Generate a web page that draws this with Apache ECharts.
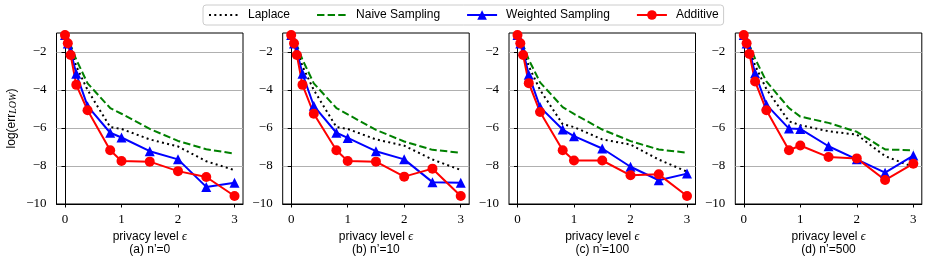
<!DOCTYPE html>
<html>
<head>
<meta charset="utf-8">
<script src="https://cdn.jsdelivr.net/npm/echarts@6/dist/echarts.min.js"></script>
<style>
html,body{margin:0;padding:0;background:#fff;}
#chart{width:926px;height:263px;}
</style>
</head>
<body>
<div id="chart"></div>
<script>
// ---- data ----
const epsilon = [0, 0.05, 0.1, 0.2, 0.4, 0.8, 1, 1.5, 2, 2.5, 3];
const seriesNames = ['Laplace', 'Naive Sampling', 'Weighted Sampling', 'Additive'];
const panelLabels = ["(a) n\u2019=0", "(b) n\u2019=10", "(c) n\u2019=100", "(d) n\u2019=500"];
const xTicks = [0, 1, 2, 3];
const yTicks = [-10, -8, -6, -4, -2];

const laplaceA  = [-1.0, -1.45, -1.85, -2.75, -4.0, -5.95, -6.05, -6.6, -6.97, -7.75, -8.22];
const naiveA    = [-1.0, -1.3, -1.65, -2.4, -3.65, -4.95, -5.25, -6.05, -6.68, -7.12, -7.35];
const weightedA = [-1.1, -1.55, -1.95, -3.15, -4.85, -6.25, -6.5, -7.22, -7.65, -9.1, -8.88];
const additiveA = [-1.11, -1.54, -2.16, -3.73, -5.07, -7.17, -7.74, -7.77, -8.27, -8.58, -9.58];

const laplaceB  = [-1.0, -1.45, -1.85, -2.75, -4.0, -5.95, -6.05, -6.6, -6.93, -7.66, -8.21];
const naiveB    = [-1.0, -1.3, -1.65, -2.4, -3.65, -4.95, -5.28, -6.1, -6.71, -7.15, -7.3];
const weightedB = [-1.1, -1.55, -1.95, -3.15, -4.83, -6.25, -6.52, -7.22, -7.65, -8.85, -8.88];
const additiveB = [-1.11, -1.54, -2.16, -3.73, -5.25, -7.17, -7.74, -7.77, -8.56, -8.14, -9.58];

const laplaceC  = [-1.0, -1.45, -1.85, -2.75, -4.0, -5.8, -5.95, -6.6, -6.87, -7.66, -8.3];
const naiveC    = [-1.0, -1.3, -1.65, -2.4, -3.6, -4.9, -5.26, -6.08, -6.69, -7.13, -7.3];
const weightedC = [-1.1, -1.55, -1.95, -3.2, -4.9, -6.08, -6.43, -7.08, -8.04, -8.75, -8.4];
const additiveC = [-1.11, -1.54, -2.16, -3.64, -5.16, -7.17, -7.71, -7.71, -8.49, -8.44, -9.58];

const laplaceD  = [-1.0, -1.45, -1.85, -2.7, -3.95, -5.65, -5.85, -6.17, -6.35, -7.48, -8.05];
const naiveD    = [-1.0, -1.3, -1.65, -2.35, -3.55, -4.95, -5.4, -5.73, -6.2, -7.13, -7.17];
const weightedD = [-1.1, -1.55, -1.95, -3.12, -4.77, -6.03, -6.05, -6.96, -7.65, -8.35, -7.45];
const additiveD = [-1.11, -1.54, -2.1, -3.55, -5.07, -7.17, -6.92, -7.53, -7.6, -8.74, -7.88];

const panels = [
  [laplaceA, naiveA, weightedA, additiveA],
  [laplaceB, naiveB, weightedB, additiveB],
  [laplaceC, naiveC, weightedC, additiveC],
  [laplaceD, naiveD, weightedD, additiveD]
];

// ---- layout / style ----
const gridLefts = [56.5, 282.7, 509, 735.3];
const gridTop = 33, gridH = 171, gridW = 186.5;
const serif = "'Liberation Serif', 'DejaVu Serif', serif";
const sans = "'Liberation Sans', 'DejaVu Sans', sans-serif";
const fmtNum = v => (v < 0 ? '\u2212' : '') + Math.abs(v);

const styles = [
  { color: '#000000', lineStyle: { color: '#000000', width: 2, type: [2, 3.3] }, symbol: 'none' },
  { color: '#008000', lineStyle: { color: '#008000', width: 2, type: [7.4, 3.2] }, symbol: 'none' },
  { color: '#0000ff', lineStyle: { color: '#0000ff', width: 2 }, symbol: 'triangle', symbolSize: 10 },
  { color: '#ff0000', lineStyle: { color: '#ff0000', width: 2 }, symbol: 'circle', symbolSize: 10 }
];

const grid = [], xAxis = [], yAxis = [], series = [];
panels.forEach((p, i) => {
  grid.push({ left: gridLefts[i], top: gridTop, width: gridW, height: gridH,
    show: true, borderColor: '#000', borderWidth: 1, backgroundColor: 'transparent' });
  xAxis.push({
    gridIndex: i, type: 'value', min: -0.15, max: 3.15,
    name: '{t|privacy level }{e|\u03F5}\n{t|' + panelLabels[i] + '}',
    nameLocation: 'middle', nameGap: 26,
    nameTextStyle: { rich: {
      t: { fontFamily: sans, fontSize: 12, color: '#000', lineHeight: 13 },
      e: { fontFamily: serif, fontSize: 12, fontStyle: 'italic', color: '#000', lineHeight: 13 }
    } },
    axisLine: { show: true, lineStyle: { color: '#000', width: 1 } },
    axisTick: { show: true, length: 3.5, lineStyle: { color: '#000', width: 1 }, customValues: xTicks },
    axisLabel: { customValues: xTicks, formatter: v => fmtNum(v), fontFamily: serif, fontSize: 13, color: '#000', margin: 9 },
    splitLine: { show: false }
  });
  yAxis.push({
    gridIndex: i, type: 'value', min: -10, max: -1, interval: 2,
    name: i === 0 ? '{t|log(err}{s|LOW}{t|)}' : '',
    nameLocation: 'middle', nameGap: 38, nameRotate: 90,
    nameTextStyle: { rich: {
      t: { fontFamily: sans, fontSize: 12, color: '#000' },
      s: { fontFamily: serif, fontSize: 10, fontStyle: 'italic', color: '#000', padding: [3, 0, 0, 0] }
    } },
    axisLine: { show: true, lineStyle: { color: '#000', width: 1 } },
    axisTick: { show: true, length: 3.5, lineStyle: { color: '#000', width: 1 }, customValues: yTicks },
    axisLabel: { customValues: yTicks, formatter: v => fmtNum(v), fontFamily: serif, fontSize: 13, color: '#000', margin: 10 },
    splitLine: { show: true, lineStyle: { color: '#b0b0b0', width: 1 } }
  });
  p.forEach((vals, k) => {
    const s = styles[k];
    series.push(Object.assign({
      name: seriesNames[k], type: 'line', xAxisIndex: i, yAxisIndex: i,
      data: epsilon.map((x, j) => [x, vals[j]]),
      showSymbol: s.symbol !== 'none', clip: true, animation: false,
      itemStyle: { color: s.color }
    }, s));
  });
});

const legendData = seriesNames.map((n, k) => styles[k].symbol === 'none'
  ? { name: n, itemStyle: { opacity: 0, borderWidth: 0 } }
  : { name: n });

const chart = echarts.init(document.getElementById('chart'), null, { renderer: 'canvas' });
chart.setOption({
  animation: false,
  backgroundColor: '#fff',
  legend: {
    data: legendData, left: 203, top: 5,
    padding: [4, 5, 4, 5], itemGap: 26, itemWidth: 30, itemHeight: 12,
    borderColor: '#cccccc', borderWidth: 1, borderRadius: 3,
    textStyle: { fontFamily: sans, fontSize: 12, color: '#000', padding: [0, 0, 0, 4] }
  },
  grid, xAxis, yAxis, series
});
</script>
</body>
</html>
